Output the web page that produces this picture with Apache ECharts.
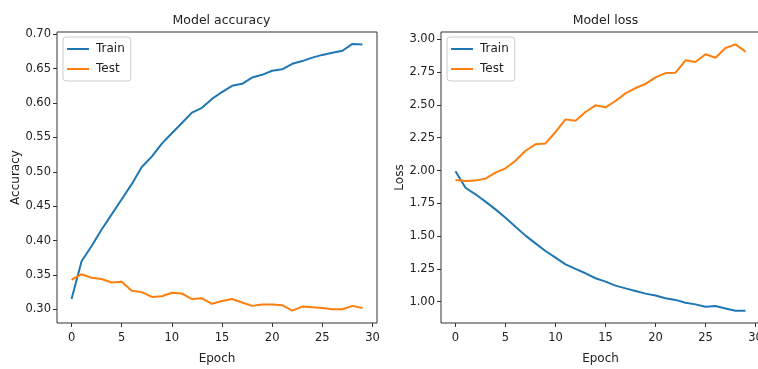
<!DOCTYPE html>
<html>
<head>
<meta charset="utf-8">
<script src="https://cdn.jsdelivr.net/npm/echarts@6/dist/echarts.min.js"></script>
<style>
html,body{margin:0;padding:0;background:#fff;}
#c{width:758px;height:369px;}
</style>
</head>
<body>
<div id="c"></div>
<script>
// ---- data ----
const epochs = [0,1,2,3,4,5,6,7,8,9,10,11,12,13,14,15,16,17,18,19,20,21,22,23,24,25,26,27,28,29];
const trainAcc = [0.315,0.370,0.392,0.416,0.438,0.460,0.482,0.507,0.522,0.541,0.556,0.571,0.586,0.593,0.606,0.616,0.625,0.628,0.637,0.641,0.647,0.649,0.657,0.661,0.666,0.670,0.673,0.676,0.686,0.685];
const testAcc = [0.343,0.351,0.346,0.344,0.339,0.340,0.327,0.325,0.318,0.319,0.324,0.323,0.315,0.316,0.308,0.312,0.315,0.310,0.305,0.307,0.307,0.306,0.298,0.304,0.303,0.302,0.300,0.300,0.305,0.302];
const trainLoss = [1.995,1.869,1.819,1.763,1.704,1.641,1.572,1.504,1.445,1.387,1.336,1.285,1.250,1.217,1.179,1.153,1.123,1.102,1.082,1.062,1.047,1.026,1.014,0.993,0.980,0.962,0.967,0.949,0.931,0.931];
const testLoss = [1.928,1.920,1.925,1.938,1.984,2.017,2.075,2.151,2.200,2.207,2.294,2.390,2.380,2.446,2.497,2.482,2.530,2.588,2.629,2.660,2.710,2.743,2.746,2.840,2.827,2.886,2.860,2.934,2.962,2.906];
const xTicks = [0,5,10,15,20,25,30];
const accTicks = [0.30,0.35,0.40,0.45,0.50,0.55,0.60,0.65,0.70];
const lossTicks = [1.00,1.25,1.50,1.75,2.00,2.25,2.50,2.75,3.00];
const titles = ['Model accuracy','Model loss'];
const yNames = ['Accuracy','Loss'];
const xName = 'Epoch';
const seriesNames = ['Train','Test'];

const BLUE = '#1f77b4', ORANGE = '#ff7f0e';
const FONT = 'DejaVu Sans';
const pair = arr => arr.map((v,i)=>[epochs[i], v]);

const chart = echarts.init(document.getElementById('c'), null, {renderer:'canvas'});

function xAxisCfg(gi){
  return {
    type:'value', gridIndex:gi, min:-1.45, max:30.45,
    name:xName, nameLocation:'middle', nameGap:30,
    nameTextStyle:{fontFamily:FONT,fontSize:12,color:'#222'},
    axisLine:{show:false, onZero:false},
    splitLine:{show:false},
    axisTick:{show:true, inside:false, length:4, lineStyle:{color:'#333',width:1}, customValues:xTicks},
    axisLabel:{fontFamily:FONT,fontSize:11.5,color:'#222',margin:9, customValues:xTicks, formatter:v=>String(v)}
  };
}
function yAxisCfg(gi,min,max,ticks,name,gap){
  return {
    type:'value', gridIndex:gi, min:min, max:max,
    name:name, nameLocation:'middle', nameGap:gap, nameRotate:90,
    nameTextStyle:{fontFamily:FONT,fontSize:12,color:'#222'},
    axisLine:{show:false, onZero:false},
    splitLine:{show:false},
    axisTick:{show:true, inside:false, length:4, lineStyle:{color:'#333',width:1}, customValues:ticks},
    axisLabel:{fontFamily:FONT,fontSize:11.5,color:'#222',margin:6, customValues:ticks, formatter:v=>v.toFixed(2)}
  };
}
function legendCfg(left){
  return {
    left:left, top:37, orient:'vertical',
    data:seriesNames,
    backgroundColor:'rgba(255,255,255,0.8)',
    borderColor:'#cccccc', borderWidth:1, borderRadius:3,
    padding:[5,6,5,4],
    itemWidth:22, itemHeight:2, itemGap:6,
    icon:'rect',
    textStyle:{fontFamily:FONT,fontSize:12,color:'#222',lineHeight:14,padding:[0,0,0,2]}
  };
}

const option = {
  animation:false,
  backgroundColor:'#ffffff',
  title:[
    {text:titles[0], left:216.5, top:9, textAlign:'center', textStyle:{fontFamily:FONT,fontSize:12.5,fontWeight:'normal',color:'#222'}},
    {text:titles[1], left:600.5, top:9, textAlign:'center', textStyle:{fontFamily:FONT,fontSize:12.5,fontWeight:'normal',color:'#222'}}
  ],
  legend:[legendCfg(63), legendCfg(447)],
  grid:[
    {left:57, top:32, width:320, height:291, show:true, borderColor:'#333', borderWidth:1, backgroundColor:'transparent', containLabel:false, outerBoundsMode:'none'},
    {left:441, top:32, width:319, height:291, show:true, borderColor:'#333', borderWidth:1, backgroundColor:'transparent', containLabel:false, outerBoundsMode:'none'}
  ],
  xAxis:[xAxisCfg(0), xAxisCfg(1)],
  yAxis:[
    yAxisCfg(0,0.2801,0.7033,accTicks,yNames[0],34),
    yAxisCfg(1,0.838,3.056,lossTicks,yNames[1],33)
  ],
  series:[
    {name:seriesNames[0], type:'line', xAxisIndex:0, yAxisIndex:0, data:pair(trainAcc), showSymbol:false, lineStyle:{color:BLUE,width:2}, itemStyle:{color:BLUE}},
    {name:seriesNames[1], type:'line', xAxisIndex:0, yAxisIndex:0, data:pair(testAcc), showSymbol:false, lineStyle:{color:ORANGE,width:2}, itemStyle:{color:ORANGE}},
    {name:seriesNames[0], type:'line', xAxisIndex:1, yAxisIndex:1, data:pair(trainLoss), showSymbol:false, lineStyle:{color:BLUE,width:2}, itemStyle:{color:BLUE}},
    {name:seriesNames[1], type:'line', xAxisIndex:1, yAxisIndex:1, data:pair(testLoss), showSymbol:false, lineStyle:{color:ORANGE,width:2}, itemStyle:{color:ORANGE}}
  ]
};
chart.setOption(option);
</script>
</body>
</html>
